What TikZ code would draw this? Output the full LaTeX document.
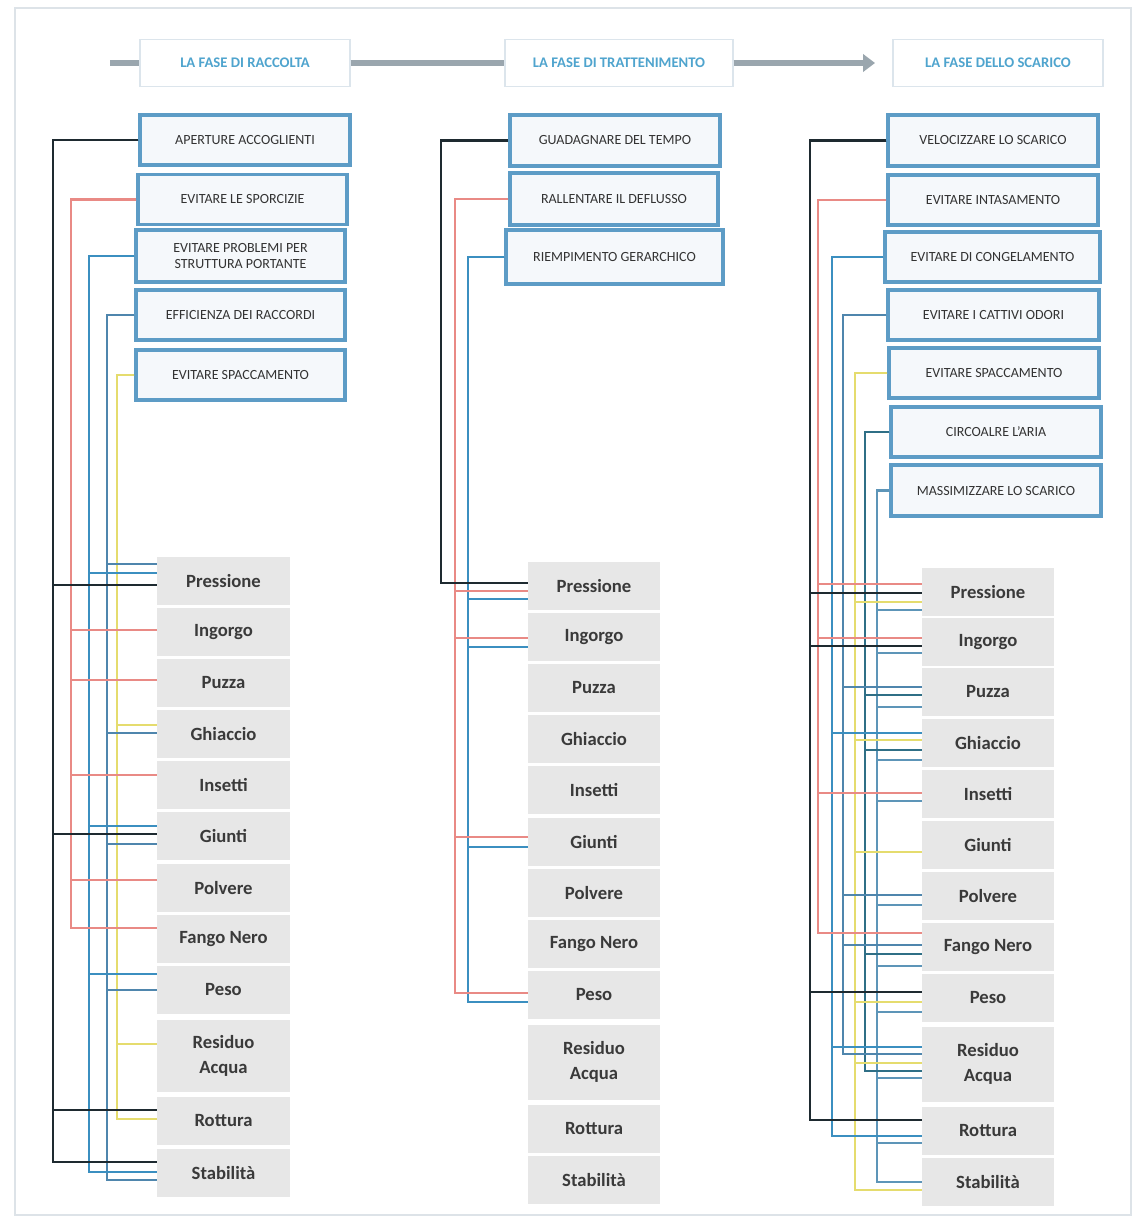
\documentclass[tikz,border=0pt]{standalone}
\usepackage{fontspec}
\setmainfont{Carlito}
\usetikzlibrary{arrows.meta}

\definecolor{framec}{HTML}{DDE3E8}
\definecolor{headc}{HTML}{DCE5EC}
\definecolor{headtext}{HTML}{4FA4CE}
\definecolor{arrowc}{HTML}{9AA6AE}
\definecolor{goalc}{HTML}{5D9CC6}
\definecolor{goalfill}{HTML}{F5F8FB}
\definecolor{goaltext}{HTML}{333333}
\definecolor{issuefill}{HTML}{E7E7E7}
\definecolor{issuetext}{HTML}{3A3A3A}
\definecolor{cblack}{HTML}{1E2A30}
\definecolor{cred}{HTML}{E98A85}
\definecolor{cblue}{HTML}{3B8FC0}
\definecolor{cblueb}{HTML}{4F86AD}
\definecolor{cyellow}{HTML}{E5DC6E}
\definecolor{cteal}{HTML}{2F6F86}
\definecolor{cgrayblue}{HTML}{5D95B8}

% goal -> issue connector: leaves the goal box to the left, runs down
% the column bus at x = #3 and enters the issue box at height #5
\newcommand\lnk[5]{\draw[conn,#1] (#2.west) -| (#3,#5) -- (#4.west |- 0,#5);}

\begin{document}
\begin{tikzpicture}[x=0.75pt,y=-0.75pt,
  bw/.style={minimum width=#1*0.75pt},
  bh/.style={minimum height=#1*0.75pt},
  head/.style={draw=headc, line width=1pt, fill=white, bh=47,
    text=headtext, font=\fontsize{11}{13}\selectfont\bfseries, inner sep=1pt},
  goal/.style={draw=goalc, line width=2.3pt, fill=goalfill, bh=50,
    align=center, text=goaltext, font=\fontsize{10.5}{16}\selectfont, inner sep=1pt},
  issue/.style={fill=issuefill, bw=133, bh=48, align=center,
    text=issuetext, font=\fontsize{14}{19}\selectfont\bfseries, inner sep=1pt},
  conn/.style={line width=1.6pt},
  flow/.style={draw=arrowc, line width=4pt}
]
\useasboundingbox (0,0) rectangle (1141,1221);
\fill[white] (0,0) rectangle (1141,1221);
\draw[framec, line width=1.2pt] (15,8) rectangle (1131,1215);

% phase headers
\node[head, bw=210] (h1) at (245,63) {LA FASE DI RACCOLTA};
\node[head, bw=228] (h2) at (619,63) {LA FASE DI TRATTENIMENTO};
\node[head, bw=210] (h3) at (998,63) {LA FASE DELLO SCARICO};
\coordinate (hs) at (110,63);
\draw[flow] (hs) -- (h1.west);
\draw[flow] (h1.east) -- (h2.west);
\draw[flow, -{Triangle[length=9pt,width=13pt]}, shorten >=13pt] (h2.east) -- (h3.west);

% goals, first phase
\node[goal, bw=210] (ga1) at (245,140) {APERTURE ACCOGLIENTI};
\node[goal, bw=209] (ga2) at (242.5,199.5) {EVITARE LE SPORCIZIE};
\node[goal, bw=209, bh=52] (ga3) at (240.5,256) {EVITARE PROBLEMI PER\\[-4pt]STRUTTURA PORTANTE};
\node[goal, bw=209] (ga4) at (240.5,315) {EFFICIENZA DEI RACCORDI};
\node[goal, bw=209] (ga5) at (240.5,375) {EVITARE SPACCAMENTO};

% goals, second phase
\node[goal, bw=210, bh=51] (gb1) at (615,140.5) {GUADAGNARE DEL TEMPO};
\node[goal, bw=208, bh=52] (gb2) at (614,199) {RALLENTARE IL DEFLUSSO};
\node[goal, bw=217, bh=54] (gb3) at (614.5,257) {RIEMPIMENTO GERARCHICO};

% goals, third phase
\node[goal, bw=210, bh=51] (gc1) at (993,140.5) {VELOCIZZARE LO SCARICO};
\node[goal, bw=210] (gc2) at (993,200) {EVITARE INTASAMENTO};
\node[goal, bw=215] (gc3) at (992.5,257) {EVITARE DI CONGELAMENTO};
\node[goal, bw=211] (gc4) at (993.5,315) {EVITARE I CATTIVI ODORI};
\node[goal, bw=210] (gc5) at (994,373) {EVITARE SPACCAMENTO};
\node[goal, bw=210] (gc6) at (996,432) {CIRCOALRE L'ARIA};
\node[goal, bw=210, bh=51] (gc7) at (996,490.5) {MASSIMIZZARE LO SCARICO};

% issues, first phase
\node[issue] (a1) at (223.5,581) {Pressione};
\node[issue] (a2) at (223.5,632) {Ingorgo};
\node[issue] (a3) at (223.5,683) {Puzza};
\node[issue] (a4) at (223.5,734) {Ghiaccio};
\node[issue] (a5) at (223.5,785) {Insetti};
\node[issue] (a6) at (223.5,836) {Giunti};
\node[issue] (a7) at (223.5,888) {Polvere};
\node[issue] (a8) at (223.5,939) {Fango Nero};
\node[issue] (a9) at (223.5,990) {Peso};
\node[issue, bh=72] (a10) at (223.5,1056) {Residuo\\Acqua};
\node[issue] (a11) at (223.5,1121) {Rottura};
\node[issue] (a12) at (223.5,1173) {Stabilità};

% issues, second phase
\node[issue, bw=132] (b1) at (594,586) {Pressione};
\node[issue, bw=132] (b2) at (594,637) {Ingorgo};
\node[issue, bw=132] (b3) at (594,688) {Puzza};
\node[issue, bw=132] (b4) at (594,739) {Ghiaccio};
\node[issue, bw=132] (b5) at (594,790) {Insetti};
\node[issue, bw=132] (b6) at (594,842) {Giunti};
\node[issue, bw=132] (b7) at (594,893) {Polvere};
\node[issue, bw=132] (b8) at (594,944) {Fango Nero};
\node[issue, bw=132] (b9) at (594,995) {Peso};
\node[issue, bw=132, bh=75] (b10) at (594,1062) {Residuo\\Acqua};
\node[issue, bw=132] (b11) at (594,1129) {Rottura};
\node[issue, bw=132] (b12) at (594,1180) {Stabilità};

% issues, third phase
\node[issue, bw=132] (c1) at (988,592) {Pressione};
\node[issue, bw=132] (c2) at (988,642) {Ingorgo};
\node[issue, bw=132] (c3) at (988,692) {Puzza};
\node[issue, bw=132] (c4) at (988,743) {Ghiaccio};
\node[issue, bw=132] (c5) at (988,794) {Insetti};
\node[issue, bw=132] (c6) at (988,845) {Giunti};
\node[issue, bw=132] (c7) at (988,896) {Polvere};
\node[issue, bw=132] (c8) at (988,947) {Fango Nero};
\node[issue, bw=132] (c9) at (988,998) {Peso};
\node[issue, bw=132, bh=75] (c10) at (988,1064) {Residuo\\Acqua};
\node[issue, bw=132] (c11) at (988,1131) {Rottura};
\node[issue, bw=132] (c12) at (988,1182) {Stabilità};

% connectors, first phase
\lnk{cyellow}{ga5}{117}{a4}{725}
\lnk{cyellow}{ga5}{117}{a10}{1044}
\lnk{cyellow}{ga5}{117}{a11}{1119}
\lnk{cblueb}{ga4}{107}{a1}{564}
\lnk{cblueb}{ga4}{107}{a4}{733}
\lnk{cblueb}{ga4}{107}{a6}{844}
\lnk{cblueb}{ga4}{107}{a9}{990}
\lnk{cblueb}{ga4}{107}{a12}{1180}
\lnk{cblue}{ga3}{89}{a1}{573}
\lnk{cblue}{ga3}{89}{a6}{826}
\lnk{cblue}{ga3}{89}{a9}{974}
\lnk{cblue}{ga3}{89}{a12}{1172}
\lnk{cred}{ga2}{71}{a2}{630}
\lnk{cred}{ga2}{71}{a3}{680}
\lnk{cred}{ga2}{71}{a5}{775}
\lnk{cred}{ga2}{71}{a7}{880}
\lnk{cred}{ga2}{71}{a8}{928}
\lnk{cblack}{ga1}{53}{a1}{585}
\lnk{cblack}{ga1}{53}{a6}{834}
\lnk{cblack}{ga1}{53}{a11}{1110}
\lnk{cblack}{ga1}{53}{a12}{1162}

% connectors, second phase
\lnk{cblue}{gb3}{468}{b1}{599}
\lnk{cblue}{gb3}{468}{b2}{647}
\lnk{cblue}{gb3}{468}{b6}{847}
\lnk{cblue}{gb3}{468}{b9}{1002}
\lnk{cred}{gb2}{455}{b1}{591}
\lnk{cred}{gb2}{455}{b2}{638}
\lnk{cred}{gb2}{455}{b6}{837}
\lnk{cred}{gb2}{455}{b9}{993}
\lnk{cblack}{gb1}{441}{b1}{583}

% connectors, third phase
\lnk{cgrayblue}{gc7}{877}{c1}{610}
\lnk{cgrayblue}{gc7}{877}{c2}{653}
\lnk{cgrayblue}{gc7}{877}{c3}{707}
\lnk{cgrayblue}{gc7}{877}{c4}{760}
\lnk{cgrayblue}{gc7}{877}{c5}{801}
\lnk{cgrayblue}{gc7}{877}{c7}{905}
\lnk{cgrayblue}{gc7}{877}{c8}{966}
\lnk{cgrayblue}{gc7}{877}{c9}{1012}
\lnk{cgrayblue}{gc7}{877}{c10}{1078}
\lnk{cgrayblue}{gc7}{877}{c11}{1143}
\lnk{cgrayblue}{gc7}{877}{c12}{1182}
\lnk{cteal}{gc6}{865}{c3}{695}
\lnk{cteal}{gc6}{865}{c4}{750}
\lnk{cteal}{gc6}{865}{c8}{954}
\lnk{cteal}{gc6}{865}{c10}{1071}
\lnk{cyellow}{gc5}{855}{c1}{602}
\lnk{cyellow}{gc5}{855}{c4}{740}
\lnk{cyellow}{gc5}{855}{c6}{852}
\lnk{cyellow}{gc5}{855}{c9}{1002}
\lnk{cyellow}{gc5}{855}{c10}{1063}
\lnk{cyellow}{gc5}{855}{c12}{1190}
\lnk{cblueb}{gc4}{843}{c3}{687}
\lnk{cblueb}{gc4}{843}{c7}{895}
\lnk{cblueb}{gc4}{843}{c8}{945}
\lnk{cblueb}{gc4}{843}{c10}{1054}
\lnk{cblue}{gc3}{832}{c4}{733}
\lnk{cblue}{gc3}{832}{c10}{1047}
\lnk{cblue}{gc3}{832}{c11}{1136}
\lnk{cred}{gc2}{818}{c1}{584}
\lnk{cred}{gc2}{818}{c2}{638}
\lnk{cred}{gc2}{818}{c5}{793}
\lnk{cred}{gc2}{818}{c8}{933}
\lnk{cblack}{gc1}{810}{c1}{593}
\lnk{cblack}{gc1}{810}{c2}{646}
\lnk{cblack}{gc1}{810}{c9}{992}
\lnk{cblack}{gc1}{810}{c11}{1120}
\end{tikzpicture}
\end{document}
